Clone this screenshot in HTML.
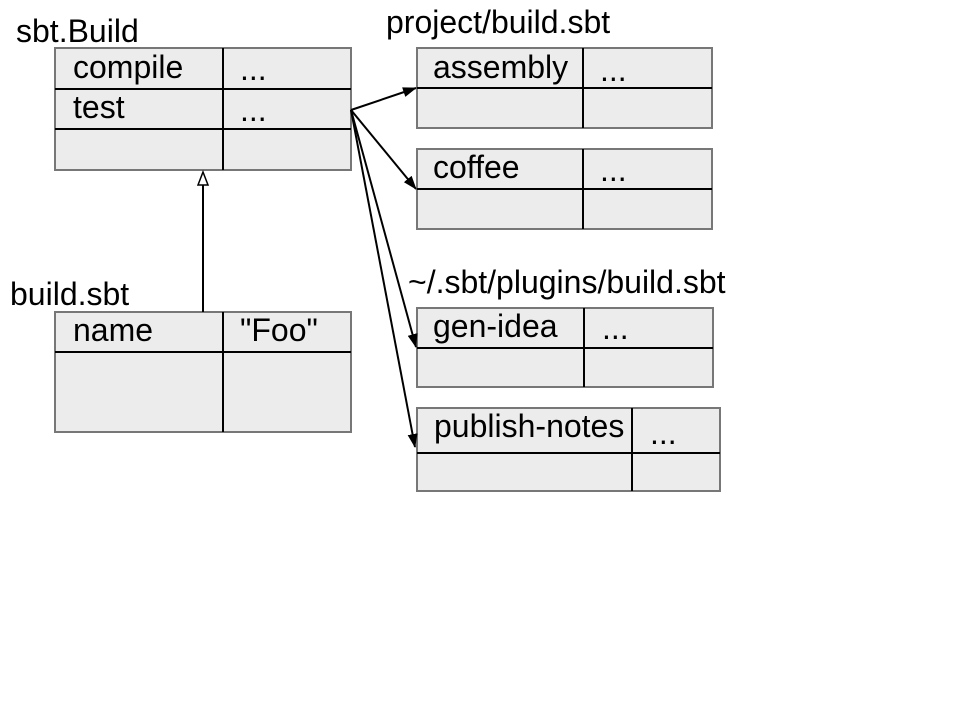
<!DOCTYPE html>
<html><head><style>body{margin:0;background:#fff}</style></head><body>
<svg width="960" height="720" xmlns="http://www.w3.org/2000/svg" font-family="Liberation Sans, sans-serif" font-size="32">
<defs>
<marker id="a" markerWidth="14" markerHeight="10" refX="13" refY="5" orient="auto" markerUnits="userSpaceOnUse"><path d="M0,0 L14,5 L0,10 z" fill="#000"/></marker>
</defs>
<g fill="#ececec" stroke="#777" stroke-width="2">
<rect x="55" y="48" width="296" height="122"/>
<rect x="55" y="312" width="296" height="120"/>
<rect x="417" y="48" width="295" height="80"/>
<rect x="417" y="149" width="295" height="80"/>
<rect x="417" y="308" width="296" height="79"/>
<rect x="417" y="408" width="303" height="83"/>
</g>
<g stroke="#000" stroke-width="2">
<line x1="55" y1="89" x2="351" y2="89"/><line x1="55" y1="129" x2="351" y2="129"/><line x1="223" y1="48" x2="223" y2="170"/>
<line x1="55" y1="352" x2="351" y2="352"/><line x1="223" y1="312" x2="223" y2="432"/>
<line x1="417" y1="88" x2="712" y2="88"/><line x1="583" y1="48" x2="583" y2="128"/>
<line x1="417" y1="189" x2="712" y2="189"/><line x1="583" y1="149" x2="583" y2="229"/>
<line x1="417" y1="348" x2="713" y2="348"/><line x1="584" y1="308" x2="584" y2="387"/>
<line x1="417" y1="453" x2="720" y2="453"/><line x1="632" y1="408" x2="632" y2="491"/>
</g>
<g stroke="#000" stroke-width="2" fill="none" marker-end="url(#a)">
<line x1="351" y1="110" x2="416" y2="88"/>
<line x1="351" y1="110" x2="416" y2="189"/>
<line x1="351" y1="110" x2="416" y2="347"/>
<line x1="351" y1="110" x2="415" y2="447"/>
</g>
<line x1="203" y1="312" x2="203" y2="185" stroke="#000" stroke-width="2"/>
<path d="M203,172 L208,185 L198,185 z" fill="#fff" stroke="#000" stroke-width="1.5"/>
<g fill="#000">
<text x="16" y="42">sbt.Build</text>
<text x="73" y="78">compile</text><text x="240" y="80">...</text>
<text x="73" y="118">test</text><text x="240" y="121">...</text>
<text x="10" y="305">build.sbt</text>
<text x="73" y="341">name</text><text x="240" y="341">"Foo"</text>
<text x="386" y="33">project/build.sbt</text>
<text x="433" y="78">assembly</text><text x="600" y="81">...</text>
<text x="433" y="178">coffee</text><text x="600" y="181">...</text>
<text x="408" y="293">~/.sbt/plugins/build.sbt</text>
<text x="433" y="337">gen-idea</text><text x="602" y="339">...</text>
<text x="434" y="437">publish-notes</text><text x="650" y="444">...</text>
</g>
</svg>
</body></html>
